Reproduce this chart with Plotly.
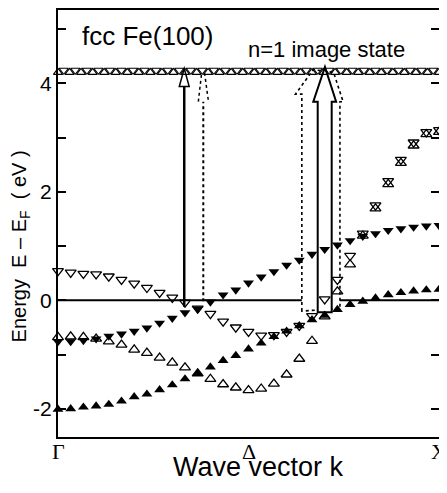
import plotly.graph_objects as go

# k index grid: 0 (Gamma) .. 15 (Delta) .. 30 (X)
k = list(range(31))

# open down-triangles
band_open_down = [0.54, 0.51, 0.49, 0.48, 0.44, 0.38, 0.31, 0.23, 0.14, 0.05,
                  -0.04, -0.15, -0.25, -0.39, -0.50, -0.58, -0.65, -0.64, -0.58, -0.47,
                  -0.29, 0.02, 0.38, 0.82, 1.23, 1.75, 2.20, 2.59, 2.91, 3.10, 3.14]
# filled down-triangles
band_filled_down = [-0.76, -0.76, -0.74, -0.71, -0.66, -0.62, -0.57, -0.51, -0.42, -0.33,
                    -0.23, -0.16, -0.03, 0.10, 0.19, 0.32, 0.43, 0.53, 0.65, 0.74,
                    0.85, 0.94, 1.02, 1.10, 1.18, 1.23, 1.29, 1.32, 1.35, 1.37, 1.38]
# open up-triangles
band_open_up = [-0.68, -0.67, -0.68, -0.71, -0.76, -0.82, -0.91, -0.97, -1.06, -1.15,
                -1.24, -1.35, -1.45, -1.55, -1.61, -1.66, -1.63, -1.54, -1.37, -1.08,
                -0.75, -0.30, 0.16, 0.66, 1.19, 1.69, 2.14, 2.53, 2.85, 3.06, 3.10]
# filled up-triangles
band_filled_up = [-2.01, -2.00, -1.97, -1.95, -1.92, -1.86, -1.78, -1.73, -1.65, -1.56,
                  -1.45, -1.35, -1.23, -1.11, -1.02, -0.90, -0.79, -0.67, -0.57, -0.47,
                  -0.36, -0.28, -0.17, -0.08, -0.02, 0.04, 0.10, 0.14, 0.17, 0.19, 0.20]

# n=1 image state
n_img = 33
image_k_up = [30 * j / n_img for j in range(n_img + 1)]
image_k_down = [30 * (j + 0.5) / n_img for j in range(n_img)]
image_E_up = [4.20] * len(image_k_up)
image_E_down = [4.24] * len(image_k_down)

x_tick_vals = [0, 15, 30]
x_tick_text = ["Γ", "Δ", "X"]
y_tick_vals = [-2, 0, 2, 4]
y_tick_text = ["-2", "0", "2", "4"]
y_minor_vals = [-1, 1, 3, 5]

fig = go.Figure()

def add(xs, ys, sym, size=9, lw=1.2):
    fig.add_trace(go.Scatter(
        x=xs, y=ys, mode="markers", showlegend=False,
        marker=dict(symbol=sym, size=size, color="black",
                    line=dict(color="black", width=lw)),
        cliponaxis=False))

add(image_k_up, image_E_up, "triangle-up-open", 8, 1.1)
add(image_k_down, image_E_down, "triangle-down-open", 8, 1.1)
add(k, band_open_down, "triangle-down-open", 9.5, 1.3)
add(k, band_open_up, "triangle-up-open", 9.5, 1.3)
add(k, band_filled_down, "triangle-down", 9.5, 0)
add(k, band_filled_up, "triangle-up", 9.5, 0)

shapes = []
# Fermi level line
shapes.append(dict(type="line", xref="x", yref="y", x0=0, x1=30, y0=0, y1=0,
                   line=dict(color="black", width=2), layer="between"))
# thin solid arrow
shapes.append(dict(type="line", xref="x", yref="y", x0=9.94, x1=9.94, y0=-0.12, y1=3.94,
                   line=dict(color="black", width=2.5), layer="between"))
shapes.append(dict(type="path", xref="x", yref="y",
                   path="M 9.55,3.94 L 9.94,4.27 L 10.33,3.94 Z",
                   line=dict(color="black", width=1.5), fillcolor="white", layer="between"))
# thin dashed arrow
shapes.append(dict(type="line", xref="x", yref="y", x0=11.44, x1=11.44, y0=-0.02, y1=3.66,
                   line=dict(color="black", width=2, dash="dot"), layer="between"))
shapes.append(dict(type="path", xref="x", yref="y",
                   path="M 11.05,3.66 L 11.30,4.17 L 11.55,4.17 L 11.85,3.66",
                   line=dict(color="black", width=1.5, dash="dot"), layer="between"))
# wide dashed arrow
shapes.append(dict(type="path", xref="x", yref="y",
                   path="M 19.2,-0.2 L 19.2,3.8 L 18.7,3.8 L 20.1,4.25 L 21.7,4.2 L 22.45,3.66 L 22.2,3.66 L 22.2,-0.15 Z",
                   line=dict(color="black", width=1.6, dash="dot"), fillcolor="white", layer="between"))
# wide solid arrow
shapes.append(dict(type="path", xref="x", yref="y",
                   path="M 20.45,-0.22 L 20.45,3.66 L 20.1,3.66 L 21.02,4.30 L 21.9,3.66 L 21.55,3.66 L 21.55,-0.22 Z",
                   line=dict(color="black", width=2), fillcolor="white", layer="between"))

annotations = [
    dict(text="fcc Fe(100)", x=0.236, y=0.940, xref="paper", yref="paper",
         showarrow=False, font=dict(family="Liberation Sans", size=26, color="black"),
         xanchor="center", yanchor="middle"),
    dict(text="n=1 image state", x=0.706, y=0.907, xref="paper", yref="paper",
         showarrow=False, font=dict(family="Liberation Sans", size=22, color="black"),
         xanchor="center", yanchor="middle"),
    dict(text="Wave vector k", x=0.525, y=-0.071, xref="paper", yref="paper",
         showarrow=False, font=dict(family="Liberation Sans", size=27, color="black"),
         xanchor="center", yanchor="middle"),
    dict(text="Energy\u00a0\u00a0E – E<sub>F</sub>\u00a0\u00a0( eV )", x=-0.099, y=0.447,
         xref="paper", yref="paper", textangle=-90, showarrow=False,
         font=dict(family="Liberation Sans", size=20, color="black"),
         xanchor="center", yanchor="middle"),
]
for v, t in zip(x_tick_vals, x_tick_text):
    annotations.append(dict(text=t, x=v, y=-0.034, xref="x", yref="paper",
                            showarrow=False, xanchor="center", yanchor="middle",
                            font=dict(family="Liberation Serif", size=22, color="black")))

fig.update_layout(
    width=439, height=485,
    margin=dict(l=50, r=8, t=0, b=56),
    paper_bgcolor="white", plot_bgcolor="white",
    shapes=shapes, annotations=annotations,
    xaxis=dict(range=[0, 30], tickvals=x_tick_vals, showticklabels=False,
               showgrid=False, zeroline=False, ticks="",
               showline=True, linecolor="black", linewidth=2, mirror=True),
    yaxis=dict(range=[-2.52, 5.35], tickvals=y_tick_vals, ticktext=y_tick_text,
               showgrid=False, zeroline=False, ticks="inside", ticklen=8, tickwidth=1.5,
               tickcolor="black",
               minor=dict(tickvals=y_minor_vals, ticks="inside", ticklen=8, tickwidth=1.5,
                          tickcolor="black", showgrid=False),
               showline=True, linecolor="black", linewidth=2, mirror="ticks",
               tickfont=dict(family="Liberation Sans", size=21, color="black")),
)

fig.write_html("out.html")
